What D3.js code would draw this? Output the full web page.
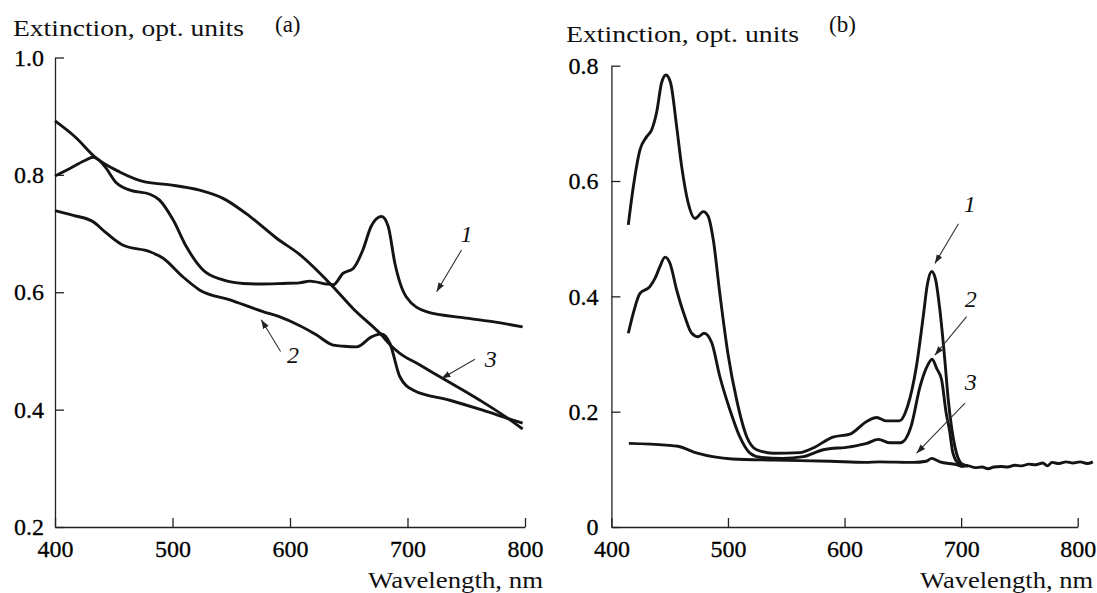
<!DOCTYPE html>
<html>
<head>
<meta charset="utf-8">
<script src="https://cdn.jsdelivr.net/npm/d3@7"></script>
<style>
  body { margin: 0; background: #fff; }
  svg { display: block; }
</style>
</head>
<body>
<script>
// panel (a): wavelength, extinction pairs
const curveA1 = [[400,0.798],[412.7,0.811],[425,0.824],[432.5,0.83],[437,0.826],[442.5,0.814],[452.4,0.786],[463.7,0.774],[480.8,0.767],[489,0.757],[500.6,0.723],[512,0.677],[526,0.638],[543,0.621],[560,0.615],[575,0.614],[594,0.615],[608,0.616],[617,0.619],[631,0.614],[637,0.613],[645,0.632],[654,0.641],[662,0.672],[669,0.712],[674,0.726],[678,0.729],[683.6,0.712],[689.3,0.649],[699,0.592],[716,0.567],[750,0.556],[775,0.549],[798,0.541]]
const curveA2 = [[400,0.739],[415.5,0.731],[432.5,0.72],[442.5,0.703],[458,0.68],[480.8,0.669],[492,0.658],[509,0.626],[523,0.604],[549,0.587],[577,0.567],[591.4,0.558],[608.4,0.543],[622,0.528],[636.8,0.51],[646,0.508],[656.7,0.507],[669.4,0.524],[678,0.529],[685,0.513],[693.5,0.456],[705,0.433],[736,0.416],[764,0.399],[787,0.384],[798,0.377]]
const curveA3 = [[400,0.892],[417,0.865],[435.4,0.828],[455,0.805],[476.5,0.788],[498,0.783],[523,0.774],[543,0.76],[566,0.729],[588.6,0.692],[608.4,0.664],[635.4,0.612],[653.8,0.572],[676.5,0.53],[688,0.505],[693.5,0.496],[710.6,0.476],[727.6,0.456],[761.6,0.416],[787,0.383],[798,0.367]]

// panel (b)
const curveB1 = [[414.5,0.524],[418.8,0.59],[424.5,0.654],[430.3,0.677],[434.6,0.689],[438.9,0.72],[443,0.77],[446.8,0.784],[450.8,0.77],[456,0.694],[460.3,0.625],[466,0.561],[471.7,0.535],[478.8,0.547],[483,0.539],[487.4,0.498],[493,0.405],[500,0.3],[507.5,0.22],[516,0.157],[524.6,0.134],[538.9,0.128],[561.7,0.129],[573,0.137],[590,0.156],[604.6,0.161],[619,0.183],[627.5,0.19],[636,0.184],[647,0.184],[654,0.209],[661.6,0.278],[667.5,0.365],[671,0.42],[674.7,0.443],[678,0.43],[681.8,0.376],[686,0.29],[689,0.22],[692,0.17],[694.7,0.139],[700.4,0.11],[706,0.106]]
const curveB2 = [[414.5,0.336],[418.8,0.371],[424.5,0.405],[433,0.417],[437.4,0.431],[441.7,0.452],[446,0.468],[450.3,0.457],[456,0.411],[463,0.365],[468.9,0.336],[474.5,0.33],[479.5,0.336],[486,0.32],[493,0.261],[501.7,0.203],[510,0.157],[518.9,0.128],[527.4,0.121],[547,0.119],[564.6,0.122],[581.7,0.134],[604.6,0.139],[619,0.145],[629,0.152],[639,0.146],[648,0.146],[657,0.174],[664.7,0.243],[670,0.275],[675.2,0.291],[679,0.275],[683.3,0.255],[687,0.2],[690,0.168],[693,0.128],[698,0.11],[706,0.106]]
const curveB3 = [[415,0.145],[446.6,0.142],[457,0.14],[473.7,0.128],[503.7,0.118],[539.8,0.116],[588,0.114],[618,0.112],[630,0.113],[659,0.112],[670,0.114],[674.7,0.119],[681.8,0.113],[696,0.108],[700.7,0.105],[706,0.106],[712,0.103],[718,0.104],[723,0.101],[728,0.104],[734,0.105],[740,0.104],[746,0.107],[752,0.106],[758,0.109],[764,0.108],[770,0.111],[774,0.106],[778,0.112],[784,0.11],[790,0.113],[796,0.111],[802,0.113],[808,0.11],[813,0.113]]

const xTicks = [400, 500, 600, 700, 800]
const yTicksA = [0.2, 0.4, 0.6, 0.8, 1.0]
const yLabelsA = ['0.2', '0.4', '0.6', '0.8', '1.0']
const yTicksB = [0, 0.2, 0.4, 0.6, 0.8]
const yLabelsB = ['0', '0.2', '0.4', '0.6', '0.8']

// curve labels: [text, label x, label y, arrow from x, y, arrow to x, y] in data units
const notesA = [['1',750.3,0.686,746,0.672,724.8,0.601],['2',602.5,0.479,592,0.499,575.5,0.553],['3',770.8,0.473,757.4,0.486,729,0.453]]
const notesB = [['1',707.5,0.547,697.7,0.526,677.5,0.457],['2',708.2,0.382,704.7,0.365,677.5,0.298],['3',708.2,0.238,703.3,0.215,661.8,0.128]]

const WIDTH = 1097
const HEIGHT = 593
const SERIF = 'Liberation Serif'

svg = d3.select('body').append('svg')
    .attr('width', WIDTH)
    .attr('height', HEIGHT)

svg.append('defs').append('marker')
    .attr('id', 'head')
    .attr('viewBox', '0 0 10 10')
    .attr('refX', 10).attr('refY', 5)
    .attr('markerWidth', 9).attr('markerHeight', 9)
    .attr('markerUnits', 'userSpaceOnUse')
    .attr('orient', 'auto')
  .append('path')
    .attr('d', 'M0,1.5L10,5L0,8.5Z')
    .attr('fill', '#222')

function panel(p) {
    x = d3.scaleLinear().domain([400, 800]).range(p.xr)
    y = d3.scaleLinear().domain(p.yd).range(p.yr)

    g = svg.append('g')

    ax = g.append('g')
        .attr('transform', `translate(0,${p.yr[0]})`)
        .call(d3.axisBottom(x).tickValues(xTicks).tickSizeInner(-9).tickSizeOuter(0).tickPadding(13))
    ay = g.append('g')
        .attr('transform', `translate(${p.xr[0]},0)`)
        .call(d3.axisLeft(y).tickValues(p.yt).tickFormat((d, i) => p.yl[i])
            .tickSizeInner(-9).tickSizeOuter(0).tickPadding(p.pad))
    for (a of [ax, ay]) {
        a.attr('font-family', SERIF).attr('font-size', 24)
        a.selectAll('path, line').attr('stroke', '#222').attr('stroke-width', 1.3)
        a.selectAll('text').attr('fill', '#000').attr('stroke', '#000').attr('stroke-width', 0.3)
    }

    line = d3.line().x(d => x(d[0])).y(d => y(d[1])).curve(d3.curveMonotoneX)
    g.append('g')
        .selectAll('path')
        .data(p.curves)
        .join('path')
            .attr('d', line)
            .attr('fill', 'none')
            .attr('stroke', '#141414')
            .attr('stroke-width', 2.9)
            .attr('stroke-linejoin', 'round')

    g.append('g')
        .selectAll('line')
        .data(p.notes)
        .join('line')
            .attr('x1', d => x(d[3])).attr('y1', d => y(d[4]))
            .attr('x2', d => x(d[5])).attr('y2', d => y(d[6]))
            .attr('stroke', '#333').attr('stroke-width', 1.1)
            .attr('marker-end', 'url(#head)')
    g.append('g')
        .selectAll('text')
        .data(p.notes)
        .join('text')
            .attr('x', d => x(d[1])).attr('y', d => y(d[2]))
            .attr('text-anchor', 'middle')
            .attr('font-family', SERIF).attr('font-style', 'italic').attr('font-size', 24)
            .attr('fill', '#111')
            .text(d => d[0])

    // titles
    g.append('text')
        .attr('x', p.title[0]).attr('y', p.title[1])
        .attr('textLength', p.title[2]).attr('lengthAdjust', 'spacingAndGlyphs')
        .attr('font-family', SERIF).attr('font-size', 23).attr('fill', '#111')
        .text('Extinction, opt. units')
    g.append('text')
        .attr('x', p.tag[0]).attr('y', p.tag[1])
        .attr('font-family', SERIF).attr('font-size', 23).attr('fill', '#111')
        .text(p.tag[2])
    g.append('text')
        .attr('x', p.xlab[0]).attr('y', 588)
        .attr('textLength', p.xlab[1] - p.xlab[0]).attr('lengthAdjust', 'spacingAndGlyphs')
        .attr('font-family', SERIF).attr('font-size', 23).attr('fill', '#111')
        .text('Wavelength, nm')
}

panel({
    xr: [55, 525], yr: [527, 57.5], yd: [0.2, 1.0], yt: yTicksA, yl: yLabelsA, pad: 11,
    curves: [curveA1, curveA2, curveA3], notes: notesA,
    title: [13, 36, 231], tag: [275, 32, '(a)'], xlab: [368, 543]
})
panel({
    xr: [611.4, 1077.7], yr: [527, 65.7], yd: [0, 0.8], yt: yTicksB, yl: yLabelsB, pad: 13,
    curves: [curveB1, curveB2, curveB3], notes: notesB,
    title: [566, 42, 233], tag: [829, 32, '(b)'], xlab: [920, 1093]
})
</script>
</body>
</html>
